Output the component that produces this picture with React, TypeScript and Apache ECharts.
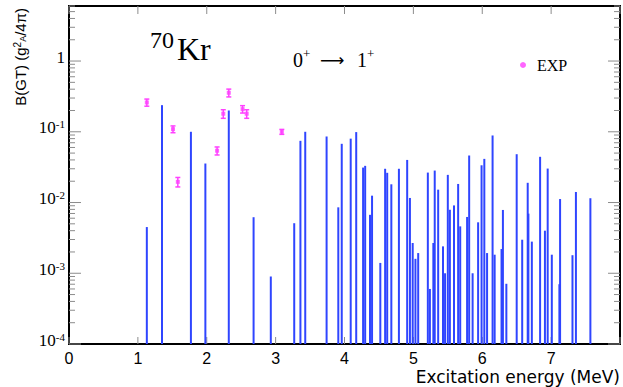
import React, { useEffect, useRef } from "react";
import * as echarts from "echarts";

// Calculated B(GT) strengths (shell model), excitation energy in MeV
const energies = [
  1.13, 1.35, 1.77, 1.98, 2.32, 2.68, 2.93, 3.27, 3.36, 3.43, 3.74, 3.91, 3.96,
  4.09, 4.17, 4.27, 4.3, 4.37, 4.4, 4.52, 4.59, 4.62, 4.68, 4.79, 4.91, 4.95,
  4.99, 5.03, 5.07, 5.21, 5.24, 5.29, 5.31, 5.36, 5.43, 5.46, 5.5, 5.53, 5.59,
  5.65, 5.68, 5.78, 5.81, 5.86, 5.94, 5.99, 6.03, 6.07, 6.15, 6.18, 6.28, 6.3,
  6.35, 6.5, 6.58, 6.66, 6.67, 6.72, 6.84, 6.91, 6.95, 7.01, 7.12, 7.13, 7.31,
  7.36, 7.57,
];
const bgt = [
  4.5e-3, 0.238, 0.1, 0.0356, 0.2, 6.2e-3, 9.0e-4, 5.1e-3, 0.0745, 0.1, 0.0858,
  8.55e-3, 0.0676, 0.08, 0.099, 0.0312, 0.033, 6.7e-3, 0.0125, 1.4e-3, 0.03,
  0.0263, 0.0181, 0.03, 0.04, 0.0116, 2.68e-3, 1.6e-3, 1.93e-3, 0.0265, 6.0e-4,
  2.68e-3, 0.0283, 0.0152, 2.4e-3, 1.0e-3, 0.0246, 7.9e-3, 9.1e-3, 0.0183,
  4.6e-3, 6.25e-3, 0.0462, 1.0e-3, 5.25e-3, 0.0336, 0.0414, 1.93e-3, 0.0887,
  1.83e-3, 2.2e-3, 7.85e-3, 7.1e-4, 0.0482, 2.98e-3, 0.019, 6.97e-3, 2.8e-3,
  0.0443, 4.0e-3, 0.0302, 1.83e-3, 7.0e-4, 0.0112, 1.8e-3, 0.0141, 0.0115,
];

// Experimental points
const expEnergies = [1.13, 1.51, 1.58, 2.15, 2.24, 2.32, 2.52, 2.58, 3.09];
const expBgt = [0.26, 0.109, 0.0196, 0.054, 0.18, 0.356, 0.209, 0.18, 0.1];
const expErr = [0.03, 0.012, 0.003, 0.007, 0.025, 0.045, 0.025, 0.025, 0.008];

// Axes
const xTicks = [0, 1, 2, 3, 4, 5, 6, 7, 8];
const xTickLabels = ["0", "1", "2", "3", "4", "5", "6", "7", ""];
const yDecades = [-4, -3, -2, -1, 0];
const yMultipliers = [1, 2, 3, 4, 5, 6, 7, 8, 9];
const Y_MIN = 1e-4;
const Y_MAX = 6;

const SERIF = "'Liberation Serif', 'DejaVu Serif', serif";
const SANS = "'Liberation Sans', Arial, sans-serif";

export default function App() {
  const ref = useRef<HTMLDivElement>(null);

  useEffect(() => {
    if (!ref.current) return;
    const chart = echarts.init(ref.current, undefined, { renderer: "svg" });

    const yTickVals: number[] = [];
    yDecades.forEach((d) =>
      yMultipliers.forEach((m) => {
        const v = m * Math.pow(10, d);
        if (v <= Y_MAX) yTickVals.push(v);
      })
    );
    const isPow10 = (v: number) =>
      Math.abs(Math.log10(v) - Math.round(Math.log10(v))) < 1e-6;

    const tickStyle = { stroke: "#8c8c8c", lineWidth: 1 };

    const option: any = {
      animation: false,
      backgroundColor: "#fff",
      grid: {
        show: true,
        left: 69,
        right: 2,
        top: 6,
        bottom: 43,
        borderColor: "#000",
        borderWidth: 2,
        backgroundColor: "transparent",
      },
      legend: {
        data: ["EXP"],
        left: 515,
        top: 52,
        icon: "circle",
        itemWidth: 6,
        itemHeight: 6,
        textStyle: {
          fontFamily: SERIF,
          fontSize: 16,
          color: "#000",
          padding: [0, 0, 0, 6],
        },
      },
      xAxis: {
        type: "value",
        min: 0,
        max: 8,
        interval: 1,
        axisLine: { show: false },
        axisTick: { show: false },
        splitLine: { show: false },
        axisLabel: {
          formatter: (v: number) => xTickLabels[xTicks.indexOf(v)] ?? "",
          fontFamily: SANS,
          fontSize: 16,
          lineHeight: 16,
          color: "#000",
          margin: 6,
        },
      },
      yAxis: {
        type: "log",
        logBase: 10,
        min: Y_MIN,
        max: Y_MAX,
        axisLine: { show: false },
        axisTick: { show: false },
        splitLine: { show: false },
        axisLabel: {
          margin: 4,
          padding: [0, 0, 8, 0],
          formatter: (v: number) => {
            if (!isPow10(v)) return "";
            const e = Math.round(Math.log10(v));
            if (e === 0) return "{b|1}";
            return "{b|10}{s|" + e + "}";
          },
          rich: {
            b: { fontFamily: SERIF, fontSize: 17, color: "#000", lineHeight: 18 },
            s: {
              fontFamily: SERIF,
              fontSize: 11,
              color: "#000",
              lineHeight: 10,
              verticalAlign: "top",
            },
          },
        },
      },
      graphic: [
        {
          type: "text",
          x: 150,
          y: 40,
          style: { text: "70", fontFamily: SERIF, fontSize: 24, fill: "#000", verticalAlign: "middle" },
        },
        {
          type: "text",
          x: 177,
          y: 49,
          style: { text: "Kr", fontFamily: SERIF, fontSize: 32, fill: "#000", verticalAlign: "middle" },
        },
        {
          type: "text",
          x: 293,
          y: 60,
          style: { text: "0", fontFamily: SERIF, fontSize: 20, fill: "#000", verticalAlign: "middle" },
        },
        {
          type: "text",
          x: 303,
          y: 53,
          style: { text: "+", fontFamily: SERIF, fontSize: 13, fill: "#000", verticalAlign: "middle" },
        },
        {
          type: "text",
          x: 320,
          y: 60,
          style: {
            text: "⟶",
            fontFamily: "'DejaVu Sans', sans-serif",
            fontSize: 17,
            fill: "#000",
            verticalAlign: "middle",
          },
        },
        {
          type: "text",
          x: 357,
          y: 60,
          style: { text: "1", fontFamily: SERIF, fontSize: 20, fill: "#000", verticalAlign: "middle" },
        },
        {
          type: "text",
          x: 367,
          y: 53,
          style: { text: "+", fontFamily: SERIF, fontSize: 13, fill: "#000", verticalAlign: "middle" },
        },
        {
          type: "text",
          x: 20,
          y: 8,
          rotation: Math.PI / 2,
          style: {
            text: "B(GT) (g{sup|2}{sub|A}/4π)",
            fontFamily: SANS,
            fontSize: 15,
            fill: "#000",
            align: "right",
            verticalAlign: "middle",
            rich: {
              sup: { fontFamily: SANS, fontSize: 10, fill: "#000", lineHeight: 10, verticalAlign: "top" },
              sub: { fontFamily: SANS, fontSize: 9, fill: "#000", lineHeight: 10, verticalAlign: "bottom" },
            },
          },
        },
        {
          type: "text",
          x: 620,
          y: 377,
          style: {
            text: "Excitation energy (MeV)",
            fontFamily: "'DejaVu Sans', sans-serif",
            fontSize: 17,
            fill: "#000",
            align: "right",
            verticalAlign: "middle",
          },
        },
      ],
      series: [
        {
          type: "custom",
          name: "ticksY",
          silent: true,
          data: yTickVals.map((v) => [0, v]),
          renderItem: (params: any, api: any) => {
            const v = api.value(1);
            const p = api.coord([0, v]);
            const cs = params.coordSys;
            const len = isPow10(v) ? 12 : 6;
            return {
              type: "group",
              children: [
                { type: "line", shape: { x1: cs.x, y1: p[1], x2: cs.x + len, y2: p[1] }, style: tickStyle },
                {
                  type: "line",
                  shape: { x1: cs.x + cs.width, y1: p[1], x2: cs.x + cs.width - len, y2: p[1] },
                  style: tickStyle,
                },
              ],
            };
          },
        },
        {
          type: "custom",
          name: "ticksX",
          silent: true,
          data: xTicks.map((x) => [x, Y_MIN]),
          renderItem: (params: any, api: any) => {
            const x = api.value(0);
            const p = api.coord([x, Y_MIN]);
            const cs = params.coordSys;
            return {
              type: "group",
              children: [
                { type: "line", shape: { x1: p[0], y1: cs.y, x2: p[0], y2: cs.y + 8 }, style: tickStyle },
                {
                  type: "line",
                  shape: { x1: p[0], y1: cs.y + cs.height, x2: p[0], y2: cs.y + cs.height - 7 },
                  style: tickStyle,
                },
              ],
            };
          },
        },
        {
          type: "custom",
          name: "Theory",
          silent: true,
          data: energies.map((e, i) => [e, bgt[i]]),
          renderItem: (params: any, api: any) => {
            const x = api.value(0);
            const y = api.value(1);
            const top = api.coord([x, y]);
            const base = api.coord([x, Y_MIN]);
            return {
              type: "line",
              shape: { x1: top[0], y1: base[1], x2: top[0], y2: top[1] },
              style: { stroke: "#2f45ff", lineWidth: 2 },
            };
          },
        },
        {
          type: "custom",
          name: "EXPerr",
          silent: true,
          data: expEnergies.map((e, i) => [e, expBgt[i], expErr[i]]),
          renderItem: (params: any, api: any) => {
            const x = api.value(0);
            const y = api.value(1);
            const err = api.value(2);
            const lo = api.coord([x, y - err]);
            const hi = api.coord([x, y + err]);
            const st = { stroke: "#ff40ff", lineWidth: 1.5 };
            return {
              type: "group",
              children: [
                { type: "line", shape: { x1: lo[0], y1: lo[1], x2: hi[0], y2: hi[1] }, style: st },
                { type: "line", shape: { x1: lo[0] - 2.5, y1: lo[1], x2: lo[0] + 2.5, y2: lo[1] }, style: st },
                { type: "line", shape: { x1: hi[0] - 2.5, y1: hi[1], x2: hi[0] + 2.5, y2: hi[1] }, style: st },
              ],
            };
          },
        },
        {
          type: "scatter",
          name: "EXP",
          symbol: "rect",
          symbolSize: 4,
          itemStyle: { color: "#ff40ff" },
          data: expEnergies.map((e, i) => [e, expBgt[i]]),
          z: 5,
        },
      ],
    };

    chart.setOption(option);
    return () => chart.dispose();
  }, []);

  return (
    <div
      ref={ref}
      style={{ position: "fixed", left: 0, top: 0, width: 623, height: 387, background: "#fff" }}
    />
  );
}
